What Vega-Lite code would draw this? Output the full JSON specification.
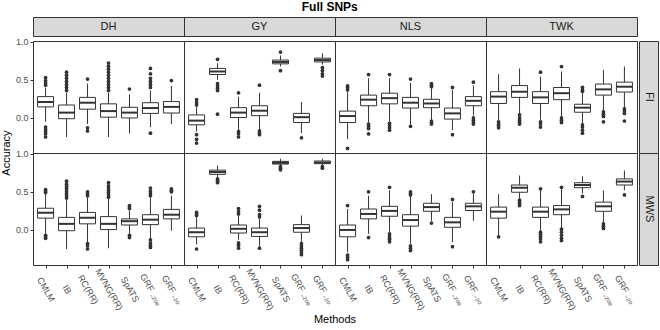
{
"$schema": "https://vega.github.io/schema/vega-lite/v6.json",
"background": "white",
"padding": {"left": 0, "right": 2, "top": 0, "bottom": 0},
"title": {"text": "Full SNPs", "fontSize": 12, "fontWeight": "bold", "anchor": "middle", "offset": 3, "color": "#000000"},
"config": {
 "font": "Liberation Sans",
 "view": {"stroke": "#333333", "strokeWidth": 1},
 "facet": {"spacing": 0},
 "concat": {"spacing": 0},
 "header": {"labels": false},
 "axis": {"grid": false, "domain": false, "tickColor": "#333333", "tickSize": 3, "labelColor": "#4D4D4D", "labelFontSize": 9, "titleFontSize": 11, "titleFontWeight": "normal", "titleColor": "#000000"}
},
"datasets": {"d": [
{"e":"FI","t":"DH","m":"CMLM","lo":-0.05,"q1":0.145,"med":0.21,"q3":0.28,"hi":0.40},
{"e":"FI","t":"DH","m":"IB","lo":-0.25,"q1":-0.01,"med":0.07,"q3":0.17,"hi":0.33},
{"e":"FI","t":"DH","m":"RC(RR)","lo":-0.08,"q1":0.115,"med":0.20,"q3":0.27,"hi":0.45},
{"e":"FI","t":"DH","m":"MVNG(RR)","lo":-0.25,"q1":0.01,"med":0.09,"q3":0.185,"hi":0.33},
{"e":"FI","t":"DH","m":"SpATS","lo":-0.2,"q1":0.0,"med":0.07,"q3":0.14,"hi":0.31},
{"e":"FI","t":"DH","m":"GRF ₋₂ₒₑ","lo":-0.12,"q1":0.06,"med":0.13,"q3":0.20,"hi":0.36},
{"e":"FI","t":"DH","m":"GRF ₋₂ₒ","lo":-0.08,"q1":0.065,"med":0.145,"q3":0.215,"hi":0.42},
{"e":"FI","t":"GY","m":"CMLM","lo":-0.18,"q1":-0.09,"med":-0.035,"q3":0.04,"hi":0.15},
{"e":"FI","t":"GY","m":"IB","lo":0.50,"q1":0.57,"med":0.61,"q3":0.65,"hi":0.72},
{"e":"FI","t":"GY","m":"RC(RR)","lo":-0.16,"q1":0.005,"med":0.07,"q3":0.135,"hi":0.28},
{"e":"FI","t":"GY","m":"MVNG(RR)","lo":-0.145,"q1":0.03,"med":0.095,"q3":0.16,"hi":0.33},
{"e":"FI","t":"GY","m":"SpATS","lo":0.675,"q1":0.71,"med":0.735,"q3":0.76,"hi":0.82},
{"e":"FI","t":"GY","m":"GRF ₋₂ₒₑ","lo":-0.2,"q1":-0.06,"med":0.01,"q3":0.06,"hi":0.21},
{"e":"FI","t":"GY","m":"GRF ₋₂ₒ","lo":0.70,"q1":0.735,"med":0.76,"q3":0.785,"hi":0.85},
{"e":"FI","t":"NLS","m":"CMLM","lo":-0.28,"q1":-0.06,"med":0.025,"q3":0.09,"hi":0.35},
{"e":"FI","t":"NLS","m":"IB","lo":-0.06,"q1":0.16,"med":0.24,"q3":0.30,"hi":0.52},
{"e":"FI","t":"NLS","m":"RC(RR)","lo":-0.05,"q1":0.185,"med":0.26,"q3":0.325,"hi":0.52},
{"e":"FI","t":"NLS","m":"MVNG(RR)","lo":-0.09,"q1":0.13,"med":0.20,"q3":0.27,"hi":0.46},
{"e":"FI","t":"NLS","m":"SpATS","lo":-0.02,"q1":0.135,"med":0.19,"q3":0.245,"hi":0.39},
{"e":"FI","t":"NLS","m":"GRF ₋₂ₒₑ","lo":-0.16,"q1":-0.015,"med":0.06,"q3":0.13,"hi":0.37},
{"e":"FI","t":"NLS","m":"GRF ₋₂ₒ","lo":0.03,"q1":0.16,"med":0.225,"q3":0.28,"hi":0.43},
{"e":"FI","t":"TWK","m":"CMLM","lo":-0.03,"q1":0.19,"med":0.28,"q3":0.345,"hi":0.575},
{"e":"FI","t":"TWK","m":"IB","lo":0.05,"q1":0.27,"med":0.345,"q3":0.425,"hi":0.65},
{"e":"FI","t":"TWK","m":"RC(RR)","lo":-0.025,"q1":0.19,"med":0.27,"q3":0.345,"hi":0.54},
{"e":"FI","t":"TWK","m":"MVNG(RR)","lo":0.02,"q1":0.24,"med":0.325,"q3":0.40,"hi":0.61},
{"e":"FI","t":"TWK","m":"SpATS","lo":-0.08,"q1":0.075,"med":0.135,"q3":0.18,"hi":0.33},
{"e":"FI","t":"TWK","m":"GRF ₋₂ₒₑ","lo":0.09,"q1":0.30,"med":0.375,"q3":0.445,"hi":0.63},
{"e":"FI","t":"TWK","m":"GRF ₋₂ₒ","lo":0.13,"q1":0.34,"med":0.41,"q3":0.47,"hi":0.675},
{"e":"MWS","t":"DH","m":"CMLM","lo":-0.05,"q1":0.155,"med":0.225,"q3":0.285,"hi":0.475},
{"e":"MWS","t":"DH","m":"IB","lo":-0.25,"q1":-0.01,"med":0.08,"q3":0.165,"hi":0.41},
{"e":"MWS","t":"DH","m":"RC(RR)","lo":-0.16,"q1":0.08,"med":0.16,"q3":0.23,"hi":0.43},
{"e":"MWS","t":"DH","m":"MVNG(RR)","lo":-0.24,"q1":0.005,"med":0.08,"q3":0.175,"hi":0.41},
{"e":"MWS","t":"DH","m":"SpATS","lo":-0.05,"q1":0.065,"med":0.115,"q3":0.145,"hi":0.255},
{"e":"MWS","t":"DH","m":"GRF ₋₂ₒₑ","lo":-0.12,"q1":0.07,"med":0.135,"q3":0.20,"hi":0.43},
{"e":"MWS","t":"DH","m":"GRF ₋₂ₒ","lo":-0.01,"q1":0.145,"med":0.20,"q3":0.27,"hi":0.45},
{"e":"MWS","t":"GY","m":"CMLM","lo":-0.19,"q1":-0.09,"med":-0.03,"q3":0.025,"hi":0.175},
{"e":"MWS","t":"GY","m":"IB","lo":0.69,"q1":0.73,"med":0.76,"q3":0.785,"hi":0.845},
{"e":"MWS","t":"GY","m":"RC(RR)","lo":-0.13,"q1":-0.04,"med":0.015,"q3":0.065,"hi":0.20},
{"e":"MWS","t":"GY","m":"MVNG(RR)","lo":-0.215,"q1":-0.085,"med":-0.03,"q3":0.025,"hi":0.145},
{"e":"MWS","t":"GY","m":"SpATS","lo":0.84,"q1":0.865,"med":0.88,"q3":0.90,"hi":0.935},
{"e":"MWS","t":"GY","m":"GRF ₋₂ₒₑ","lo":-0.16,"q1":-0.03,"med":0.025,"q3":0.07,"hi":0.19},
{"e":"MWS","t":"GY","m":"GRF ₋₂ₒ","lo":0.845,"q1":0.87,"med":0.885,"q3":0.905,"hi":0.935},
{"e":"MWS","t":"NLS","m":"CMLM","lo":-0.295,"q1":-0.09,"med":0.0,"q3":0.065,"hi":0.275},
{"e":"MWS","t":"NLS","m":"IB","lo":-0.05,"q1":0.145,"med":0.21,"q3":0.275,"hi":0.45},
{"e":"MWS","t":"NLS","m":"RC(RR)","lo":-0.03,"q1":0.18,"med":0.25,"q3":0.31,"hi":0.52},
{"e":"MWS","t":"NLS","m":"MVNG(RR)","lo":-0.18,"q1":0.05,"med":0.13,"q3":0.20,"hi":0.45},
{"e":"MWS","t":"NLS","m":"SpATS","lo":0.12,"q1":0.245,"med":0.30,"q3":0.35,"hi":0.47},
{"e":"MWS","t":"NLS","m":"GRF ₋₂ₒₑ","lo":-0.16,"q1":0.035,"med":0.10,"q3":0.165,"hi":0.37},
{"e":"MWS","t":"NLS","m":"GRF ₋₂ₒ","lo":0.12,"q1":0.255,"med":0.31,"q3":0.35,"hi":0.47},
{"e":"MWS","t":"TWK","m":"CMLM","lo":-0.07,"q1":0.155,"med":0.24,"q3":0.30,"hi":0.47},
{"e":"MWS","t":"TWK","m":"IB","lo":0.41,"q1":0.495,"med":0.555,"q3":0.59,"hi":0.715},
{"e":"MWS","t":"TWK","m":"RC(RR)","lo":-0.01,"q1":0.165,"med":0.24,"q3":0.30,"hi":0.52},
{"e":"MWS","t":"TWK","m":"MVNG(RR)","lo":0.02,"q1":0.20,"med":0.27,"q3":0.32,"hi":0.54},
{"e":"MWS","t":"TWK","m":"SpATS","lo":0.48,"q1":0.555,"med":0.59,"q3":0.62,"hi":0.705},
{"e":"MWS","t":"TWK","m":"GRF ₋₂ₒₑ","lo":0.09,"q1":0.245,"med":0.31,"q3":0.365,"hi":0.52},
{"e":"MWS","t":"TWK","m":"GRF ₋₂ₒ","lo":0.52,"q1":0.59,"med":0.635,"q3":0.67,"hi":0.78},
{"e":"FI","t":"DH","m":"CMLM","o":0.43},{"e":"FI","t":"DH","m":"CMLM","o":0.46},{"e":"FI","t":"DH","m":"CMLM","o":0.49},{"e":"FI","t":"DH","m":"CMLM","o":0.53},{"e":"FI","t":"DH","m":"CMLM","o":-0.12},{"e":"FI","t":"DH","m":"CMLM","o":-0.15},{"e":"FI","t":"DH","m":"CMLM","o":-0.18},{"e":"FI","t":"DH","m":"CMLM","o":-0.21},{"e":"FI","t":"DH","m":"CMLM","o":-0.25},
{"e":"FI","t":"DH","m":"IB","o":0.36},{"e":"FI","t":"DH","m":"IB","o":0.40},{"e":"FI","t":"DH","m":"IB","o":0.44},{"e":"FI","t":"DH","m":"IB","o":0.48},{"e":"FI","t":"DH","m":"IB","o":0.52},{"e":"FI","t":"DH","m":"IB","o":0.56},{"e":"FI","t":"DH","m":"IB","o":0.60},
{"e":"FI","t":"DH","m":"RC(RR)","o":0.51},{"e":"FI","t":"DH","m":"RC(RR)","o":-0.13},{"e":"FI","t":"DH","m":"RC(RR)","o":-0.17},
{"e":"FI","t":"DH","m":"MVNG(RR)","o":0.36},{"e":"FI","t":"DH","m":"MVNG(RR)","o":0.40},{"e":"FI","t":"DH","m":"MVNG(RR)","o":0.44},{"e":"FI","t":"DH","m":"MVNG(RR)","o":0.48},{"e":"FI","t":"DH","m":"MVNG(RR)","o":0.52},{"e":"FI","t":"DH","m":"MVNG(RR)","o":0.56},{"e":"FI","t":"DH","m":"MVNG(RR)","o":0.60},{"e":"FI","t":"DH","m":"MVNG(RR)","o":0.64},{"e":"FI","t":"DH","m":"MVNG(RR)","o":0.68},{"e":"FI","t":"DH","m":"MVNG(RR)","o":0.72},
{"e":"FI","t":"DH","m":"SpATS","o":0.38},
{"e":"FI","t":"DH","m":"GRF ₋₂ₒₑ","o":0.40},{"e":"FI","t":"DH","m":"GRF ₋₂ₒₑ","o":0.44},{"e":"FI","t":"DH","m":"GRF ₋₂ₒₑ","o":0.48},{"e":"FI","t":"DH","m":"GRF ₋₂ₒₑ","o":0.52},{"e":"FI","t":"DH","m":"GRF ₋₂ₒₑ","o":0.58},{"e":"FI","t":"DH","m":"GRF ₋₂ₒₑ","o":0.65},{"e":"FI","t":"DH","m":"GRF ₋₂ₒₑ","o":-0.2},
{"e":"FI","t":"DH","m":"GRF ₋₂ₒ","o":0.49},
{"e":"FI","t":"GY","m":"CMLM","o":0.17},{"e":"FI","t":"GY","m":"CMLM","o":0.20},{"e":"FI","t":"GY","m":"CMLM","o":0.24},{"e":"FI","t":"GY","m":"CMLM","o":-0.22},{"e":"FI","t":"GY","m":"CMLM","o":-0.28},{"e":"FI","t":"GY","m":"CMLM","o":-0.33},
{"e":"FI","t":"GY","m":"IB","o":0.77},{"e":"FI","t":"GY","m":"IB","o":0.45},{"e":"FI","t":"GY","m":"IB","o":0.42},{"e":"FI","t":"GY","m":"IB","o":0.39},{"e":"FI","t":"GY","m":"IB","o":0.36},{"e":"FI","t":"GY","m":"IB","o":0.05},
{"e":"FI","t":"GY","m":"RC(RR)","o":0.33},{"e":"FI","t":"GY","m":"RC(RR)","o":-0.18},{"e":"FI","t":"GY","m":"RC(RR)","o":-0.21},{"e":"FI","t":"GY","m":"RC(RR)","o":-0.25},
{"e":"FI","t":"GY","m":"MVNG(RR)","o":0.43},{"e":"FI","t":"GY","m":"MVNG(RR)","o":-0.17},{"e":"FI","t":"GY","m":"MVNG(RR)","o":-0.20},{"e":"FI","t":"GY","m":"MVNG(RR)","o":-0.22},
{"e":"FI","t":"GY","m":"SpATS","o":0.865},{"e":"FI","t":"GY","m":"SpATS","o":0.62},
{"e":"FI","t":"GY","m":"GRF ₋₂ₒₑ","o":-0.26},
{"e":"FI","t":"GY","m":"GRF ₋₂ₒ","o":0.66},{"e":"FI","t":"GY","m":"GRF ₋₂ₒ","o":0.62},{"e":"FI","t":"GY","m":"GRF ₋₂ₒ","o":0.58},{"e":"FI","t":"GY","m":"GRF ₋₂ₒ","o":0.55},
{"e":"FI","t":"NLS","m":"CMLM","o":0.37},{"e":"FI","t":"NLS","m":"CMLM","o":0.40},{"e":"FI","t":"NLS","m":"CMLM","o":0.42},{"e":"FI","t":"NLS","m":"CMLM","o":-0.40},
{"e":"FI","t":"NLS","m":"IB","o":0.57},{"e":"FI","t":"NLS","m":"IB","o":-0.08},{"e":"FI","t":"NLS","m":"IB","o":-0.11},{"e":"FI","t":"NLS","m":"IB","o":-0.14},{"e":"FI","t":"NLS","m":"IB","o":-0.21},
{"e":"FI","t":"NLS","m":"RC(RR)","o":0.57},{"e":"FI","t":"NLS","m":"RC(RR)","o":-0.07},{"e":"FI","t":"NLS","m":"RC(RR)","o":-0.10},{"e":"FI","t":"NLS","m":"RC(RR)","o":-0.13},{"e":"FI","t":"NLS","m":"RC(RR)","o":-0.16},
{"e":"FI","t":"NLS","m":"MVNG(RR)","o":0.51},{"e":"FI","t":"NLS","m":"MVNG(RR)","o":-0.11},
{"e":"FI","t":"NLS","m":"SpATS","o":0.41},{"e":"FI","t":"NLS","m":"SpATS","o":0.43},{"e":"FI","t":"NLS","m":"SpATS","o":0.45},{"e":"FI","t":"NLS","m":"SpATS","o":-0.04},{"e":"FI","t":"NLS","m":"SpATS","o":-0.06},{"e":"FI","t":"NLS","m":"SpATS","o":-0.08},
{"e":"FI","t":"NLS","m":"GRF ₋₂ₒₑ","o":0.40},{"e":"FI","t":"NLS","m":"GRF ₋₂ₒₑ","o":-0.22},
{"e":"FI","t":"NLS","m":"GRF ₋₂ₒ","o":0.47},{"e":"FI","t":"NLS","m":"GRF ₋₂ₒ","o":0.0},{"e":"FI","t":"NLS","m":"GRF ₋₂ₒ","o":-0.03},{"e":"FI","t":"NLS","m":"GRF ₋₂ₒ","o":-0.06},{"e":"FI","t":"NLS","m":"GRF ₋₂ₒ","o":-0.08},
{"e":"FI","t":"TWK","m":"CMLM","o":-0.05},{"e":"FI","t":"TWK","m":"CMLM","o":-0.08},{"e":"FI","t":"TWK","m":"CMLM","o":-0.10},{"e":"FI","t":"TWK","m":"CMLM","o":-0.13},
{"e":"FI","t":"TWK","m":"IB","o":0.04},{"e":"FI","t":"TWK","m":"IB","o":0.0},{"e":"FI","t":"TWK","m":"IB","o":-0.03},{"e":"FI","t":"TWK","m":"IB","o":-0.06},{"e":"FI","t":"TWK","m":"IB","o":-0.08},
{"e":"FI","t":"TWK","m":"RC(RR)","o":0.60},{"e":"FI","t":"TWK","m":"RC(RR)","o":-0.05},{"e":"FI","t":"TWK","m":"RC(RR)","o":-0.08},{"e":"FI","t":"TWK","m":"RC(RR)","o":-0.12},
{"e":"FI","t":"TWK","m":"MVNG(RR)","o":0.675},{"e":"FI","t":"TWK","m":"MVNG(RR)","o":0.0},{"e":"FI","t":"TWK","m":"MVNG(RR)","o":-0.03},{"e":"FI","t":"TWK","m":"MVNG(RR)","o":-0.06},
{"e":"FI","t":"TWK","m":"SpATS","o":0.35},{"e":"FI","t":"TWK","m":"SpATS","o":0.37},{"e":"FI","t":"TWK","m":"SpATS","o":0.40},{"e":"FI","t":"TWK","m":"SpATS","o":-0.09},{"e":"FI","t":"TWK","m":"SpATS","o":-0.12},{"e":"FI","t":"TWK","m":"SpATS","o":-0.16},{"e":"FI","t":"TWK","m":"SpATS","o":-0.20},
{"e":"FI","t":"TWK","m":"GRF ₋₂ₒₑ","o":0.08},{"e":"FI","t":"TWK","m":"GRF ₋₂ₒₑ","o":0.05},{"e":"FI","t":"TWK","m":"GRF ₋₂ₒₑ","o":0.02},{"e":"FI","t":"TWK","m":"GRF ₋₂ₒₑ","o":-0.05},
{"e":"FI","t":"TWK","m":"GRF ₋₂ₒ","o":0.12},{"e":"FI","t":"TWK","m":"GRF ₋₂ₒ","o":0.09},{"e":"FI","t":"TWK","m":"GRF ₋₂ₒ","o":0.06},{"e":"FI","t":"TWK","m":"GRF ₋₂ₒ","o":-0.04},
{"e":"MWS","t":"DH","m":"CMLM","o":0.49},{"e":"MWS","t":"DH","m":"CMLM","o":0.51},{"e":"MWS","t":"DH","m":"CMLM","o":0.53},{"e":"MWS","t":"DH","m":"CMLM","o":-0.07},{"e":"MWS","t":"DH","m":"CMLM","o":-0.09},{"e":"MWS","t":"DH","m":"CMLM","o":-0.11},
{"e":"MWS","t":"DH","m":"IB","o":0.42},{"e":"MWS","t":"DH","m":"IB","o":0.45},{"e":"MWS","t":"DH","m":"IB","o":0.48},{"e":"MWS","t":"DH","m":"IB","o":0.51},{"e":"MWS","t":"DH","m":"IB","o":0.54},{"e":"MWS","t":"DH","m":"IB","o":0.57},{"e":"MWS","t":"DH","m":"IB","o":0.60},{"e":"MWS","t":"DH","m":"IB","o":0.64},
{"e":"MWS","t":"DH","m":"RC(RR)","o":0.45},{"e":"MWS","t":"DH","m":"RC(RR)","o":0.48},{"e":"MWS","t":"DH","m":"RC(RR)","o":0.50},{"e":"MWS","t":"DH","m":"RC(RR)","o":-0.18},{"e":"MWS","t":"DH","m":"RC(RR)","o":-0.21},{"e":"MWS","t":"DH","m":"RC(RR)","o":-0.25},
{"e":"MWS","t":"DH","m":"MVNG(RR)","o":0.43},{"e":"MWS","t":"DH","m":"MVNG(RR)","o":0.46},{"e":"MWS","t":"DH","m":"MVNG(RR)","o":0.49},{"e":"MWS","t":"DH","m":"MVNG(RR)","o":0.52},{"e":"MWS","t":"DH","m":"MVNG(RR)","o":0.55},{"e":"MWS","t":"DH","m":"MVNG(RR)","o":0.58},{"e":"MWS","t":"DH","m":"MVNG(RR)","o":0.62},
{"e":"MWS","t":"DH","m":"SpATS","o":0.28},{"e":"MWS","t":"DH","m":"SpATS","o":0.30},{"e":"MWS","t":"DH","m":"SpATS","o":0.32},{"e":"MWS","t":"DH","m":"SpATS","o":-0.07},{"e":"MWS","t":"DH","m":"SpATS","o":-0.10},
{"e":"MWS","t":"DH","m":"GRF ₋₂ₒₑ","o":0.45},{"e":"MWS","t":"DH","m":"GRF ₋₂ₒₑ","o":0.48},{"e":"MWS","t":"DH","m":"GRF ₋₂ₒₑ","o":0.51},{"e":"MWS","t":"DH","m":"GRF ₋₂ₒₑ","o":0.55},{"e":"MWS","t":"DH","m":"GRF ₋₂ₒₑ","o":-0.13},{"e":"MWS","t":"DH","m":"GRF ₋₂ₒₑ","o":-0.17},{"e":"MWS","t":"DH","m":"GRF ₋₂ₒₑ","o":-0.20},{"e":"MWS","t":"DH","m":"GRF ₋₂ₒₑ","o":-0.23},
{"e":"MWS","t":"DH","m":"GRF ₋₂ₒ","o":0.50},{"e":"MWS","t":"DH","m":"GRF ₋₂ₒ","o":0.52},{"e":"MWS","t":"DH","m":"GRF ₋₂ₒ","o":0.54},
{"e":"MWS","t":"GY","m":"CMLM","o":0.19},{"e":"MWS","t":"GY","m":"CMLM","o":0.21},{"e":"MWS","t":"GY","m":"CMLM","o":0.23},{"e":"MWS","t":"GY","m":"CMLM","o":-0.25},
{"e":"MWS","t":"GY","m":"IB","o":0.67},{"e":"MWS","t":"GY","m":"IB","o":0.65},{"e":"MWS","t":"GY","m":"IB","o":0.63},{"e":"MWS","t":"GY","m":"IB","o":0.62},
{"e":"MWS","t":"GY","m":"RC(RR)","o":0.21},{"e":"MWS","t":"GY","m":"RC(RR)","o":0.24},{"e":"MWS","t":"GY","m":"RC(RR)","o":0.28},{"e":"MWS","t":"GY","m":"RC(RR)","o":-0.17},{"e":"MWS","t":"GY","m":"RC(RR)","o":-0.20},{"e":"MWS","t":"GY","m":"RC(RR)","o":-0.24},
{"e":"MWS","t":"GY","m":"MVNG(RR)","o":0.17},{"e":"MWS","t":"GY","m":"MVNG(RR)","o":0.20},{"e":"MWS","t":"GY","m":"MVNG(RR)","o":0.26},{"e":"MWS","t":"GY","m":"MVNG(RR)","o":0.31},{"e":"MWS","t":"GY","m":"MVNG(RR)","o":-0.24},
{"e":"MWS","t":"GY","m":"SpATS","o":0.83},{"e":"MWS","t":"GY","m":"SpATS","o":0.81},{"e":"MWS","t":"GY","m":"SpATS","o":0.79},
{"e":"MWS","t":"GY","m":"GRF ₋₂ₒₑ","o":-0.18},{"e":"MWS","t":"GY","m":"GRF ₋₂ₒₑ","o":-0.21},{"e":"MWS","t":"GY","m":"GRF ₋₂ₒₑ","o":-0.24},{"e":"MWS","t":"GY","m":"GRF ₋₂ₒₑ","o":-0.27},{"e":"MWS","t":"GY","m":"GRF ₋₂ₒₑ","o":-0.30},{"e":"MWS","t":"GY","m":"GRF ₋₂ₒₑ","o":-0.325},
{"e":"MWS","t":"GY","m":"GRF ₋₂ₒ","o":0.83},{"e":"MWS","t":"GY","m":"GRF ₋₂ₒ","o":0.81},
{"e":"MWS","t":"NLS","m":"CMLM","o":0.32},{"e":"MWS","t":"NLS","m":"CMLM","o":-0.33},{"e":"MWS","t":"NLS","m":"CMLM","o":-0.36},{"e":"MWS","t":"NLS","m":"CMLM","o":-0.39},
{"e":"MWS","t":"NLS","m":"IB","o":0.50},{"e":"MWS","t":"NLS","m":"IB","o":-0.10},
{"e":"MWS","t":"NLS","m":"RC(RR)","o":0.56},{"e":"MWS","t":"NLS","m":"RC(RR)","o":-0.05},{"e":"MWS","t":"NLS","m":"RC(RR)","o":-0.08},{"e":"MWS","t":"NLS","m":"RC(RR)","o":-0.11},{"e":"MWS","t":"NLS","m":"RC(RR)","o":-0.13},{"e":"MWS","t":"NLS","m":"RC(RR)","o":-0.155},
{"e":"MWS","t":"NLS","m":"MVNG(RR)","o":0.46},{"e":"MWS","t":"NLS","m":"MVNG(RR)","o":0.48},{"e":"MWS","t":"NLS","m":"MVNG(RR)","o":0.50},{"e":"MWS","t":"NLS","m":"MVNG(RR)","o":-0.21},{"e":"MWS","t":"NLS","m":"MVNG(RR)","o":-0.24},{"e":"MWS","t":"NLS","m":"MVNG(RR)","o":-0.27},
{"e":"MWS","t":"NLS","m":"SpATS","o":0.09},
{"e":"MWS","t":"NLS","m":"GRF ₋₂ₒₑ","o":0.40},{"e":"MWS","t":"NLS","m":"GRF ₋₂ₒₑ","o":-0.22},
{"e":"MWS","t":"NLS","m":"GRF ₋₂ₒ","o":0.50},
{"e":"MWS","t":"TWK","m":"CMLM","o":-0.09},
{"e":"MWS","t":"TWK","m":"IB","o":0.39},{"e":"MWS","t":"TWK","m":"IB","o":0.36},{"e":"MWS","t":"TWK","m":"IB","o":0.34},{"e":"MWS","t":"TWK","m":"IB","o":0.32},
{"e":"MWS","t":"TWK","m":"RC(RR)","o":0.54},{"e":"MWS","t":"TWK","m":"RC(RR)","o":-0.03},{"e":"MWS","t":"TWK","m":"RC(RR)","o":-0.06},{"e":"MWS","t":"TWK","m":"RC(RR)","o":-0.09},{"e":"MWS","t":"TWK","m":"RC(RR)","o":-0.12},{"e":"MWS","t":"TWK","m":"RC(RR)","o":-0.155},
{"e":"MWS","t":"TWK","m":"MVNG(RR)","o":0.56},{"e":"MWS","t":"TWK","m":"MVNG(RR)","o":0.01},{"e":"MWS","t":"TWK","m":"MVNG(RR)","o":-0.03},{"e":"MWS","t":"TWK","m":"MVNG(RR)","o":-0.07},{"e":"MWS","t":"TWK","m":"MVNG(RR)","o":-0.11},{"e":"MWS","t":"TWK","m":"MVNG(RR)","o":-0.14},
{"e":"MWS","t":"TWK","m":"SpATS","o":0.44},
{"e":"MWS","t":"TWK","m":"GRF ₋₂ₒₑ","o":0.08},{"e":"MWS","t":"TWK","m":"GRF ₋₂ₒₑ","o":0.05},{"e":"MWS","t":"TWK","m":"GRF ₋₂ₒₑ","o":0.02},
{"e":"MWS","t":"TWK","m":"GRF ₋₂ₒ","o":0.46}
]},
"columns": 2,
"spacing": 0,
"concat": [
 {"data": {"values": [{"t":"DH"},{"t":"GY"},{"t":"NLS"},{"t":"TWK"}]},
  "facet": {"column": {"field": "t", "type": "nominal", "sort": ["DH","GY","NLS","TWK"], "header": {"labels": false, "title": null}}},
  "spacing": 0,
  "bounds": "flush",
  "spec": {"width": 151, "height": 19, "view": {"fill": "#D9D9D9", "stroke": "#333333"},
   "mark": {"type": "text", "fontSize": 11, "color": "#1A1A1A"},
   "encoding": {"text": {"field": "t", "type": "nominal"}}}},
 {"data": {"values": [{"a": 1}]}, "width": 19, "height": 19, "view": {"stroke": null},
  "mark": {"type": "text"}, "encoding": {"text": {"value": ""}}},
 {"data": {"name": "d"},
  "facet": {"row": {"field": "e", "type": "nominal", "sort": ["FI","MWS"], "header": {"labels": false, "title": "Accuracy", "titleOrient": "left", "titleFontSize": 11, "titleFontWeight": "normal", "titlePadding": -7, "titleColor": "#000000"}},
            "column": {"field": "t", "type": "nominal", "sort": ["DH","GY","NLS","TWK"], "header": {"labels": false, "title": "Methods", "titleOrient": "bottom", "titleFontSize": 11, "titleFontWeight": "normal", "titlePadding": -8, "titleColor": "#000000"}}},
  "spacing": 0,
  "bounds": "flush",
  "spec": {"width": 151, "height": 112,
   "encoding": {"x": {"field": "m", "type": "nominal", "sort": ["CMLM","IB","RC(RR)","MVNG(RR)","SpATS","GRF ₋₂ₒₑ","GRF ₋₂ₒ"],
      "scale": {"type": "point", "padding": 0.6}, "title": null,
      "axis": {"labelAngle": 60, "labelAlign": "center", "labelBaseline": "middle", "labelPadding": 21}}},
   "layer": [
    {"transform": [{"filter": "isValid(datum.med)"}],
     "mark": {"type": "rule", "color": "#333333", "strokeWidth": 1},
     "encoding": {"y": {"field": "lo", "type": "quantitative", "scale": {"domain": [-0.46, 1.01], "nice": false, "zero": false},
        "axis": {"values": [0, 0.5, 1], "format": ".1f"}, "title": null},
      "y2": {"field": "hi"}}},
    {"transform": [{"filter": "isValid(datum.med)"}],
     "mark": {"type": "bar", "width": 16, "fill": "white", "stroke": "#333333", "strokeWidth": 1},
     "encoding": {"y": {"field": "q1", "type": "quantitative"}, "y2": {"field": "q3"}}},
    {"transform": [{"filter": "isValid(datum.med)"}],
     "mark": {"type": "tick", "size": 16, "thickness": 2, "color": "#333333", "opacity": 1},
     "encoding": {"y": {"field": "med", "type": "quantitative"}}},
    {"transform": [{"filter": "isValid(datum.o)"}],
     "mark": {"type": "circle", "size": 14, "color": "#333333", "opacity": 1},
     "encoding": {"y": {"field": "o", "type": "quantitative"}}}
   ]}},
 {"data": {"values": [{"e":"FI"},{"e":"MWS"}]},
  "facet": {"row": {"field": "e", "type": "nominal", "sort": ["FI","MWS"], "header": {"labels": false, "title": null}}},
  "spacing": 0,
  "bounds": "flush",
  "spec": {"width": 19, "height": 112, "view": {"fill": "#D9D9D9", "stroke": "#333333"},
   "mark": {"type": "text", "fontSize": 11, "angle": 90, "color": "#1A1A1A"},
   "encoding": {"text": {"field": "e", "type": "nominal"}}}}
]
}
